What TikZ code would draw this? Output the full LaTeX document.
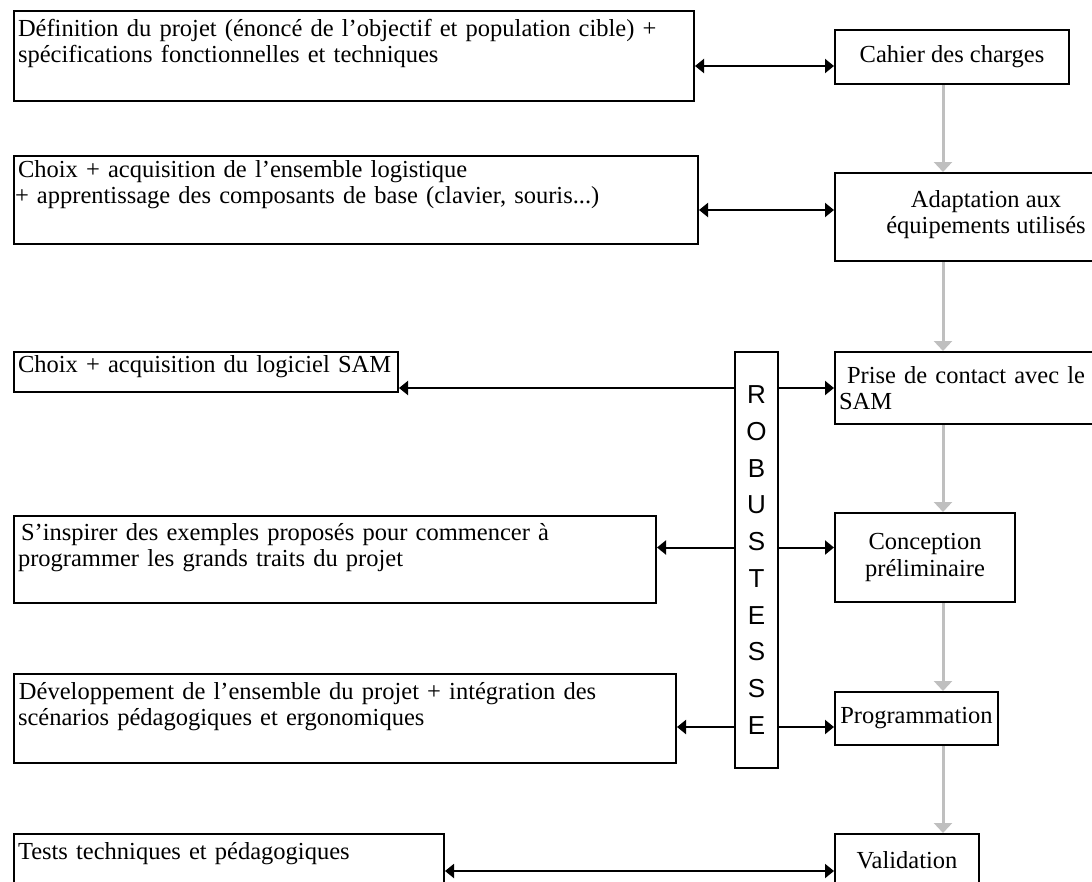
\documentclass[tikz,border=0pt]{standalone}
\usepackage{fontspec}
\setmainfont{Liberation Serif}
\newfontfamily\robfont{Liberation Sans}
\usetikzlibrary{arrows.meta, positioning, calc}
\definecolor{gris}{RGB}{191,191,191}

\begin{document}
\begin{tikzpicture}[x=1pt, y=-1pt,
		tache/.style={draw, line width=2pt, anchor=north west, align=left, inner xsep=4pt, inner ysep=0pt, font=\fontsize{24.5}{26.5}\selectfont},
		etape/.style={draw, line width=2pt, anchor=north west, align=center, inner sep=0pt, font=\fontsize{24.5}{26.5}\selectfont},
		lien/.style={draw, line width=2pt, -{Triangle[length=9pt, width=14pt]}},
		liens/.style={draw, line width=2pt, {Triangle[length=9pt, width=14pt]}-{Triangle[length=9pt, width=14pt]}},
		suite/.style={draw, line width=3pt, gris, -{Triangle[length=10pt, width=18pt]}}]
		
		\useasboundingbox (0,0) rectangle (1092,881);
		\clip (0,0) rectangle (1092,881);
		
		% Tâches (gauche)
		\node [tache, text width=672pt, text height=25pt, text depth=65pt] (definition) at (13,10) {Définition du projet (énoncé de l’objectif et population cible) +\\spécifications fonctionnelles et techniques};
		\node [tache, text width=676pt, text height=21pt, text depth=67pt] (logistique) at (13,155) {Choix + acquisition de l’ensemble logistique\\\hspace*{-3pt}+ apprentissage des composants de base (clavier, souris...)};
		\node [tache, text width=376pt, text height=20pt, text depth=20pt] (logiciel) at (13,351) {\mbox{Choix + acquisition du logiciel SAM}};
		\node [tache, text width=634pt, text height=24pt, text depth=63pt] (exemples) at (13,515) {\hspace*{3pt}S’inspirer des exemples proposés pour commencer à\\programmer les grands traits du projet};
		\node [tache, text width=654pt, text height=25pt, text depth=64pt] (developpement) at (13,673) {\hspace*{1pt}Développement de l’ensemble du projet + intégration des\\scénarios pédagogiques et ergonomiques};
		\node [tache, text width=422pt, text height=25pt, text depth=42pt] (tests) at (13,833) {Tests techniques et pédagogiques};
		
		% Etapes (droite)
		\node [etape, minimum width=234pt, minimum height=54pt] (cahier) at (834,29) {Cahier des charges};
		\node [etape, minimum width=302pt, minimum height=88pt, text depth=10pt] (adaptation) at (834,172) {Adaptation aux\\équipements utilisés};
		\node [etape, align=left, text width=292pt, inner xsep=4pt, minimum height=72pt] (contact) at (834,351) {\hspace*{8pt}Prise de contact avec le\\SAM};
		\node [etape, minimum width=180pt, minimum height=89pt] (conception) at (834,512) {Conception\\préliminaire};
		\node [etape, minimum width=163pt, minimum height=53pt] (programmation) at (834,691) {Programmation};
		\node [etape, minimum width=144pt, minimum height=52pt] (validation) at (834,833) {Validation};
		
		\node [draw, line width=2pt, anchor=north west, minimum width=43pt, minimum height=416pt, inner sep=0pt, align=center, font=\robfont\fontsize{26}{36.7}\selectfont] (robustesse) at (734,351) {R\\O\\B\\U\\S\\T\\E\\S\\S\\E};
		
		% Liens
		\path [liens] ([yshift=-10pt]definition.east) coordinate (l1) -- (l1 -| cahier.west);
		\path [liens] ([yshift=-10pt]logistique.east) coordinate (l2) -- (l2 -| adaptation.west);
		\path [lien] (robustesse.west |- contact.west) -- (logiciel.east |- contact.west);
		\path [lien] (robustesse.east |- contact.west) -- (contact.west);
		\coordinate (l4) at ([yshift=10pt]conception.west);
		\path [lien] (robustesse.west |- l4) -- (exemples.east |- l4);
		\path [lien] (robustesse.east |- l4) -- (l4);
		\coordinate (l5) at ([yshift=-8.5pt]programmation.west);
		\path [lien] (robustesse.west |- l5) -- (developpement.east |- l5);
		\path [lien] (robustesse.east |- l5) -- (l5);
		\path [liens] ([yshift=-11pt]validation.west) coordinate (l6) -- (l6 -| tests.east);
		
		% Enchaînement
		\coordinate (axe) at (943,0);
		\path [suite] (axe |- cahier.south) -- (axe |- adaptation.north);
		\path [suite] (axe |- adaptation.south) -- (axe |- contact.north);
		\path [suite] (axe |- contact.south) -- (axe |- conception.north);
		\path [suite] (axe |- conception.south) -- (axe |- programmation.north);
		\path [suite] (axe |- programmation.south) -- (axe |- validation.north);
		
\end{tikzpicture}
\end{document}
